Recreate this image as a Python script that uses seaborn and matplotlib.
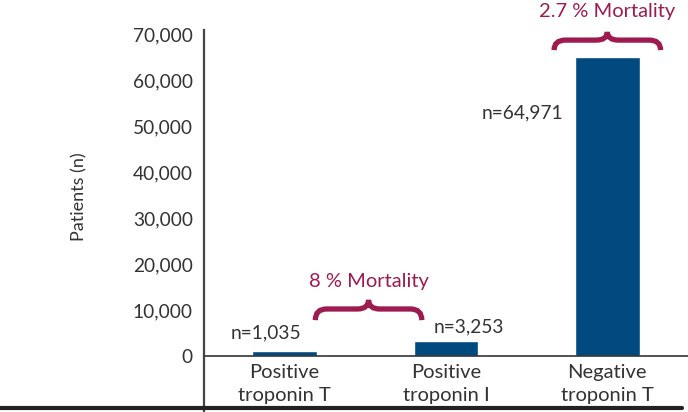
import numpy as np
import pandas as pd
import seaborn as sns
import matplotlib.pyplot as plt
from matplotlib.path import Path
from matplotlib.patches import PathPatch
from matplotlib.lines import Line2D

# data
groups = ["Positive\ntroponin T", "Positive\ntroponin I", "Negative\ntroponin T"]
patients = [1035, 3253, 64971]
count_labels = ["n=1,035", "n=3,253", "n=64,971"]
mortality_labels = ["8 % Mortality", "2.7 % Mortality"]
y_ticks = [0, 10000, 20000, 30000, 40000, 50000, 60000, 70000]

NAVY = "#004a80"
CRIMSON = "#9e1b50"
INK = "#333333"


def brace(ax, xc, half, y0, h, color):
    # horizontal curly brace, tip pointing up
    q = 0.07
    ym = y0 + 0.55 * h
    x0, x1 = xc - half, xc + half
    verts = [(x0, y0), (x0, ym), (x0 + q, ym),
             (xc - q, ym),
             (xc, ym), (xc, y0 + h),
             (xc, ym), (xc + q, ym),
             (x1 - q, ym),
             (x1, ym), (x1, y0)]
    codes = [Path.MOVETO, Path.CURVE3, Path.CURVE3,
             Path.LINETO,
             Path.CURVE3, Path.CURVE3,
             Path.CURVE3, Path.CURVE3,
             Path.LINETO,
             Path.CURVE3, Path.CURVE3]
    ax.add_patch(PathPatch(Path(verts, codes), fill=False, edgecolor=color,
                           lw=3.8, capstyle="butt", clip_on=False))


sns.set_theme(style="white")
plt.rcParams["font.family"] = ["Lato", "DejaVu Sans"]

df = pd.DataFrame({"group": groups, "patients": patients})

fig = plt.figure(figsize=(6.88, 4.12), dpi=100)
ax = fig.add_axes([204 / 688, 56 / 412, 484 / 688, 326 / 412])

sns.barplot(data=df, x="group", y="patients", color=NAVY, saturation=1,
            width=0.4, ax=ax)

ax.set_xlim(-0.5, 2.5)
ax.set_ylim(0, 70870)
ax.set_yticks(y_ticks)
ax.set_yticklabels([f"{v:,}" for v in y_ticks])
ax.tick_params(axis="y", length=0, pad=8, labelsize=13.8, labelcolor=INK)
ax.tick_params(axis="x", length=0, pad=6, labelsize=14.5, labelcolor=INK)
for lab in ax.get_xticklabels():
    lab.set_linespacing(1.38)
ax.set_xlabel("")
ax.set_ylabel("Patients (n)", fontsize=13, color=INK)
ax.yaxis.set_label_coords(-0.24, 0.49)

for side in ["top", "right"]:
    ax.spines[side].set_visible(False)
ax.spines["left"].set_color("#444444")
ax.spines["left"].set_linewidth(1.6)
ax.spines["bottom"].set_color("#333333")
ax.spines["bottom"].set_linewidth(1.2)

# counts next to bars
ax.text(-0.115, 5000, count_labels[0], ha="center", va="center", fontsize=13.8, color=INK)
ax.text(1.14, 6300, count_labels[1], ha="center", va="center", fontsize=13.8, color=INK)
ax.text(1.725, 52800, count_labels[2], ha="right", va="center", fontsize=13.8, color=INK)

# mortality braces
brace(ax, 0.52, 0.33, 7800, 4400, CRIMSON)
ax.text(0.52, 16100, mortality_labels[0], ha="center", va="center",
        fontsize=14.5, color=CRIMSON)
brace(ax, 2.0, 0.33, 66500, 3950, CRIMSON)
ax.text(2.0, 74800, mortality_labels[1], ha="center", va="center",
        fontsize=14.5, color=CRIMSON, clip_on=False)

# axis line runs down past the zero line, slide rule at the bottom
fig.add_artist(Line2D([204 / 688, 204 / 688], [0, 56 / 412], color="#444444", lw=1.6))
fig.add_artist(Line2D([0, 682 / 688], [4 / 412, 4 / 412], color="#222222", lw=3))

fig.savefig("out.png", dpi=100)
